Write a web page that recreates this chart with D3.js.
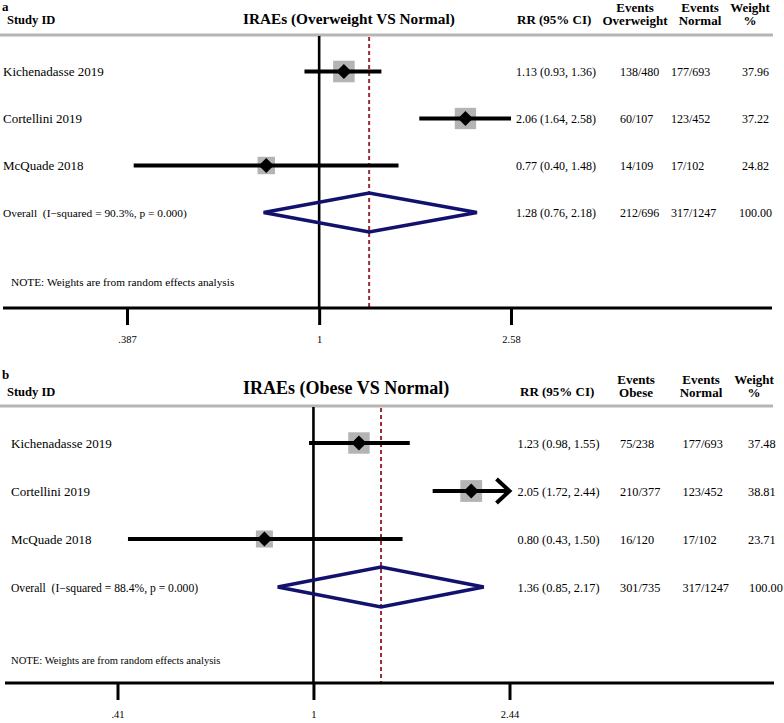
<!DOCTYPE html>
<html><head><meta charset="utf-8">
<script src="https://cdn.jsdelivr.net/npm/d3@7"></script>
<style>
body{margin:0;background:#fff}
svg{display:block}
text{font-family:"Liberation Serif","Times New Roman",serif;fill:#000;white-space:pre}
</style>
</head><body>
<svg id="chart" width="784" height="723"></svg>
<script>
// ---------- DATA ----------
const studies = ["Kichenadasse 2019", "Cortellini 2019", "McQuade 2018"];

// Panel a: Overweight vs Normal
const rrA = [1.13, 2.06, 0.77];
const lowA = [0.93, 1.64, 0.40];
const highA = [1.36, 2.58, 1.48];
const eventsExpA = ["138/480", "60/107", "14/109"];
const eventsNormA = ["177/693", "123/452", "17/102"];
const weightsA = [37.96, 37.22, 24.82];
const clippedA = [false, false, false];
const overallA = [1.28, 0.76, 2.18];
const overallEventsA = ["212/696", "317/1247"];
const overallLabelA = "Overall  (I\u2212squared = 90.3%, p = 0.000)";
const ticksA = [0.387, 1, 2.58];
const tickLabelsA = [".387", "1", "2.58"];

// Panel b: Obese vs Normal
const rrB = [1.23, 2.05, 0.80];
const lowB = [0.98, 1.72, 0.43];
const highB = [1.55, 2.44, 1.50];
const eventsExpB = ["75/238", "210/377", "16/120"];
const eventsNormB = ["177/693", "123/452", "17/102"];
const weightsB = [37.48, 38.81, 23.71];
const clippedB = [false, true, false];
const overallB = [1.36, 0.85, 2.17];
const overallEventsB = ["301/735", "317/1247"];
const overallLabelB = "Overall  (I\u2212squared = 88.4%, p = 0.000)";
const ticksB = [0.41, 1, 2.44];
const tickLabelsB = [".41", "1", "2.44"];

const fmtRR = (r, l, h) => `${r.toFixed(2)} (${l.toFixed(2)}, ${h.toFixed(2)})`;

// ---------- DRAW ----------
const svg = d3.select("#chart");
svg.append("rect").attr("width", 784).attr("height", 723).attr("fill", "#fff");

function drawPanel(p) {
  const g = svg.append("g");
  const x = d3.scaleLog().domain([p.ticks[0], p.ticks[2]]).range(p.xr);
  const y = d3.scaleLinear().domain([0, 3]).range([p.rowTop, p.rowOverall]);

  // panel letter & headers
  g.append("text").attr("x", 2).attr("y", p.top + p.letterDy).attr("font-weight", "bold")
    .attr("font-size", 13).text(p.letter);
  g.append("text").attr("x", 7).attr("y", p.top + 24).attr("font-weight", "bold")
    .attr("font-size", 12.5).text("Study ID");
  g.append("text").attr("x", 243).attr("y", p.top + p.titleDy).attr("font-weight", "bold")
    .attr("font-size", p.titleSize).text(p.title);
  g.append("text").attr("x", p.cols.rrH).attr("y", p.top + 24).attr("font-weight", "bold")
    .attr("font-size", 13).text("RR (95% CI)");
  const hdr = [[p.cols.ev1H, "Events", p.expName], [p.cols.ev2H, "Events", "Normal"], [p.cols.wH, "Weight", "%"]];
  hdr.forEach(([cx, l1, l2]) => {
    g.append("text").attr("x", cx).attr("y", p.top + 11.5).attr("text-anchor", "middle")
      .attr("font-weight", "bold").attr("font-size", 13).text(l1);
    g.append("text").attr("x", cx).attr("y", p.top + 25).attr("text-anchor", "middle")
      .attr("font-weight", "bold").attr("font-size", 13).text(l2);
  });
  // header rule
  g.append("line").attr("x1", 0).attr("x2", 773).attr("y1", p.hline).attr("y2", p.hline)
    .attr("stroke", "#b5b5b5").attr("stroke-width", 3);

  // null line
  g.append("line").attr("x1", x(1)).attr("x2", x(1)).attr("y1", p.hline + 1).attr("y2", p.axisY)
    .attr("stroke", "#000").attr("stroke-width", 2.6);
  // overall dashed line
  g.append("line").attr("x1", x(p.overall[0])).attr("x2", x(p.overall[0]))
    .attr("y1", p.hline + 2).attr("y2", p.axisY)
    .attr("stroke", "#9c2b35").attr("stroke-width", 2).attr("stroke-dasharray", "4,3");

  // studies
  p.rr.forEach((r, i) => {
    const cy = y(i);
    const side = 3.5 * Math.sqrt(p.weights[i]);
    g.append("rect").attr("x", x(r) - side / 2).attr("y", cy - side / 2)
      .attr("width", side).attr("height", side).attr("fill", "#b4b4b4");
    g.append("line").attr("x1", x(p.low[i])).attr("x2", x(p.high[i]))
      .attr("y1", cy).attr("y2", cy).attr("stroke", "#000").attr("stroke-width", 4);
    if (p.clipped[i]) {
      const xe = x(p.high[i]);
      g.append("path").attr("d", `M${xe - 13},${cy - 12}L${xe},${cy}L${xe - 13},${cy + 12}`)
        .attr("fill", "none").attr("stroke", "#000").attr("stroke-width", 4);
    }
    const d = 7.5;
    g.append("path").attr("d", `M${x(r) - d},${cy}L${x(r)},${cy - d}L${x(r) + d},${cy}L${x(r)},${cy + d}Z`)
      .attr("fill", "#000");
    g.append("text").attr("x", p.labelX).attr("y", cy + 4.5).attr("font-size", 13).text(studies[i]);
    g.append("text").attr("x", p.cols.rr).attr("y", cy + 4.5).attr("font-size", p.dataSize)
      .text(fmtRR(r, p.low[i], p.high[i]));
    g.append("text").attr("x", p.cols.ev1).attr("y", cy + 4.5).attr("font-size", p.dataSize).text(p.ev1[i]);
    g.append("text").attr("x", p.cols.ev2).attr("y", cy + 4.5).attr("font-size", p.dataSize).text(p.ev2[i]);
    g.append("text").attr("x", p.cols.w).attr("y", cy + 4.5).attr("font-size", p.dataSize)
      .text(p.weights[i].toFixed(2));
  });

  // overall diamond
  const oy = y(3);
  const [or, ol, oh] = p.overall;
  g.append("path")
    .attr("d", `M${x(ol)},${oy}L${x(or)},${oy - p.dh}L${x(oh)},${oy}L${x(or)},${oy + p.dh}Z`)
    .attr("fill", "none").attr("stroke", "#12126e").attr("stroke-width", 3.6).attr("stroke-linejoin", "miter");
  g.append("text").attr("x", p.labelX).attr("y", oy + 4.5).attr("font-size", p.overallSize).text(p.overallLabel);
  g.append("text").attr("x", p.cols.rr).attr("y", oy + 4.5).attr("font-size", p.dataSize).text(fmtRR(or, ol, oh));
  g.append("text").attr("x", p.cols.ev1).attr("y", oy + 4.5).attr("font-size", p.dataSize).text(p.overallEv[0]);
  g.append("text").attr("x", p.cols.ev2).attr("y", oy + 4.5).attr("font-size", p.dataSize).text(p.overallEv[1]);
  g.append("text").attr("x", p.cols.wO).attr("y", oy + 4.5).attr("font-size", p.dataSize).text((100).toFixed(2));

  // note
  g.append("text").attr("x", 11).attr("y", p.noteY).attr("font-size", p.noteSize)
    .text("NOTE: Weights are from random effects analysis");

  // axis
  g.append("line").attr("x1", p.axisX[0]).attr("x2", p.axisX[1]).attr("y1", p.axisY).attr("y2", p.axisY)
    .attr("stroke", "#000").attr("stroke-width", 3);
  const ax = g.append("g").attr("transform", `translate(0,${p.axisY})`)
    .call(d3.axisBottom(x).tickValues(p.ticks).tickSize(17).tickPadding(p.tickPad)
      .tickFormat((d, i) => p.tickLabels[i]));
  ax.select(".domain").remove();
  ax.selectAll(".tick line").attr("stroke", "#000").attr("stroke-width", 3);
  ax.selectAll(".tick text").attr("font-family", '"Liberation Serif","Times New Roman",serif')
    .attr("font-size", 10.5).attr("fill", "#000");
}

drawPanel({
  letter: "a", top: 0, letterDy: 11, title: "IRAEs (Overweight VS Normal)", titleSize: 15.3, titleDy: 24,
  expName: "Overweight", ticks: ticksA, tickLabels: tickLabelsA, xr: [127, 511],
  rowTop: 71.5, rowOverall: 212.5, hline: 35, axisY: 308, axisX: [3, 772], dh: 19.5,
  rr: rrA, low: lowA, high: highA, ev1: eventsExpA, ev2: eventsNormA, weights: weightsA, clipped: clippedA,
  overall: overallA, overallEv: overallEventsA, overallLabel: overallLabelA,
  labelX: 3, dataSize: 12, overallSize: 11.4, noteSize: 11.3, noteY: 286, tickPad: 11,
  cols: { rr: 516, ev1: 620, ev2: 671, w: 742, wO: 739, rrH: 517, ev1H: 635, ev2H: 700, wH: 750 }
});

drawPanel({
  letter: "b", top: 372, letterDy: 7, title: "IRAEs (Obese VS Normal)", titleSize: 18, titleDy: 22,
  expName: "Obese", ticks: ticksB, tickLabels: tickLabelsB, xr: [117.5, 509.5],
  rowTop: 443, rowOverall: 587, hline: 406, axisY: 683, axisX: [5, 774], dh: 20,
  rr: rrB, low: lowB, high: highB, ev1: eventsExpB, ev2: eventsNormB, weights: weightsB, clipped: clippedB,
  overall: overallB, overallEv: overallEventsB, overallLabel: overallLabelB,
  labelX: 11, dataSize: 12.3, overallSize: 11.6, noteSize: 10.6, noteY: 664, tickPad: 11,
  cols: { rr: 517.5, ev1: 620, ev2: 682.5, w: 748, wO: 749, rrH: 520, ev1H: 636, ev2H: 701, wH: 754 }
});
</script>
</body></html>
